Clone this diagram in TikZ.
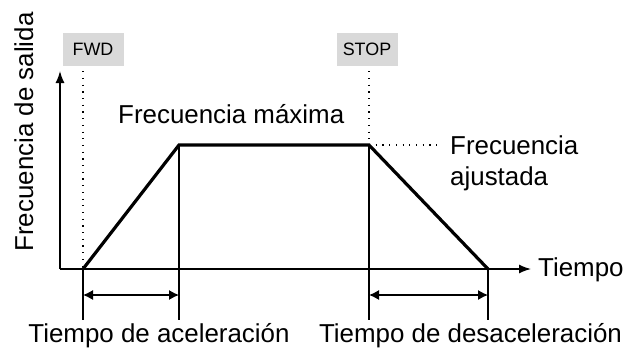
\documentclass[tikz,border=0pt]{standalone}
\usepackage{fontspec}
\setmainfont{Liberation Sans}
\usepackage{tikz}
\usetikzlibrary{arrows.meta}

\begin{document}
\begin{tikzpicture}[x=1bp, y=-1bp, >={Latex[length=12bp,width=9bp]},
        font=\fontsize{26}{31}\selectfont,
        axis/.style={line width=1.4bp},
        ramp/.style={line width=3.2bp, line join=miter},
        guide/.style={line width=1.2bp},
        dotline/.style={line width=1.2bp, dash pattern=on 1.2bp off 5.5bp},
        cmdbox/.style={fill=black!15, minimum width=61bp, minimum height=33bp, inner sep=0pt,
            font=\fontsize{18}{20}\selectfont}]
        \useasboundingbox (0,0) rectangle (629,349);

        % Points of the ramp
        \coordinate (O) at (60,269);
        \coordinate (t0) at (83,269);
        \coordinate (t1) at (179,145);
        \coordinate (t2) at (369,145);
        \coordinate (t3) at (488,269);
        \coordinate (ytop) at (60,71);
        \coordinate (xend) at (531,269);
        \coordinate (dim) at (0,295);
        \coordinate (base) at (0,320);
        \coordinate (fadj) at (437,145);

        % Axes
        \draw[axis,->] (O) -- (ytop);
        \draw[axis,->] (O) -- (xend);
        \node[anchor=base west, inner sep=0pt] (tiempo) at (538,276) {Tiempo};
        \node[rotate=90, anchor=base, inner sep=0pt] (ylbl) at (33,132) {Frecuencia de salida};

        % Commands
        \node[cmdbox] (fwd) at (93,49.5) {FWD};
        \node[cmdbox] (stop) at (367,49.5) {STOP};
        \draw[dotline] ([yshift=-5bp]fwd.south -| t0) -- (t0);
        \draw[dotline] ([yshift=-5bp]stop.south -| t2) -- (t2);
        \draw[dotline] (t2) -- (fadj);

        % Output frequency
        \draw[ramp] (t0) -- (t1) -- (t2) -- (t3);
        \node[anchor=base west, inner sep=0pt] (fmax) at (118,123) {Frecuencia máxima};
        \node[anchor=north west, align=left, inner sep=0pt] (fset) at (450,135.5) {Frecuencia\\ajustada};

        % Times
        \draw[guide] (t0) -- (t0 |- base);
        \draw[guide] (t1) -- (t1 |- base);
        \draw[guide] (t2) -- (t2 |- base);
        \draw[guide] (t3) -- (t3 |- base);
        \draw[guide,<->,>={Latex[length=10bp,width=10bp]}] (t0 |- dim) -- (t1 |- dim);
        \draw[guide,<->,>={Latex[length=10bp,width=10bp]}] (t2 |- dim) -- (t3 |- dim);
        \node[anchor=base, inner sep=0pt] (tacc) at (159,342) {Tiempo de aceleración};
        \node[anchor=base, inner sep=0pt] (tdec) at (470.5,342) {Tiempo de desaceleración};
    \end{tikzpicture}
\end{document}
